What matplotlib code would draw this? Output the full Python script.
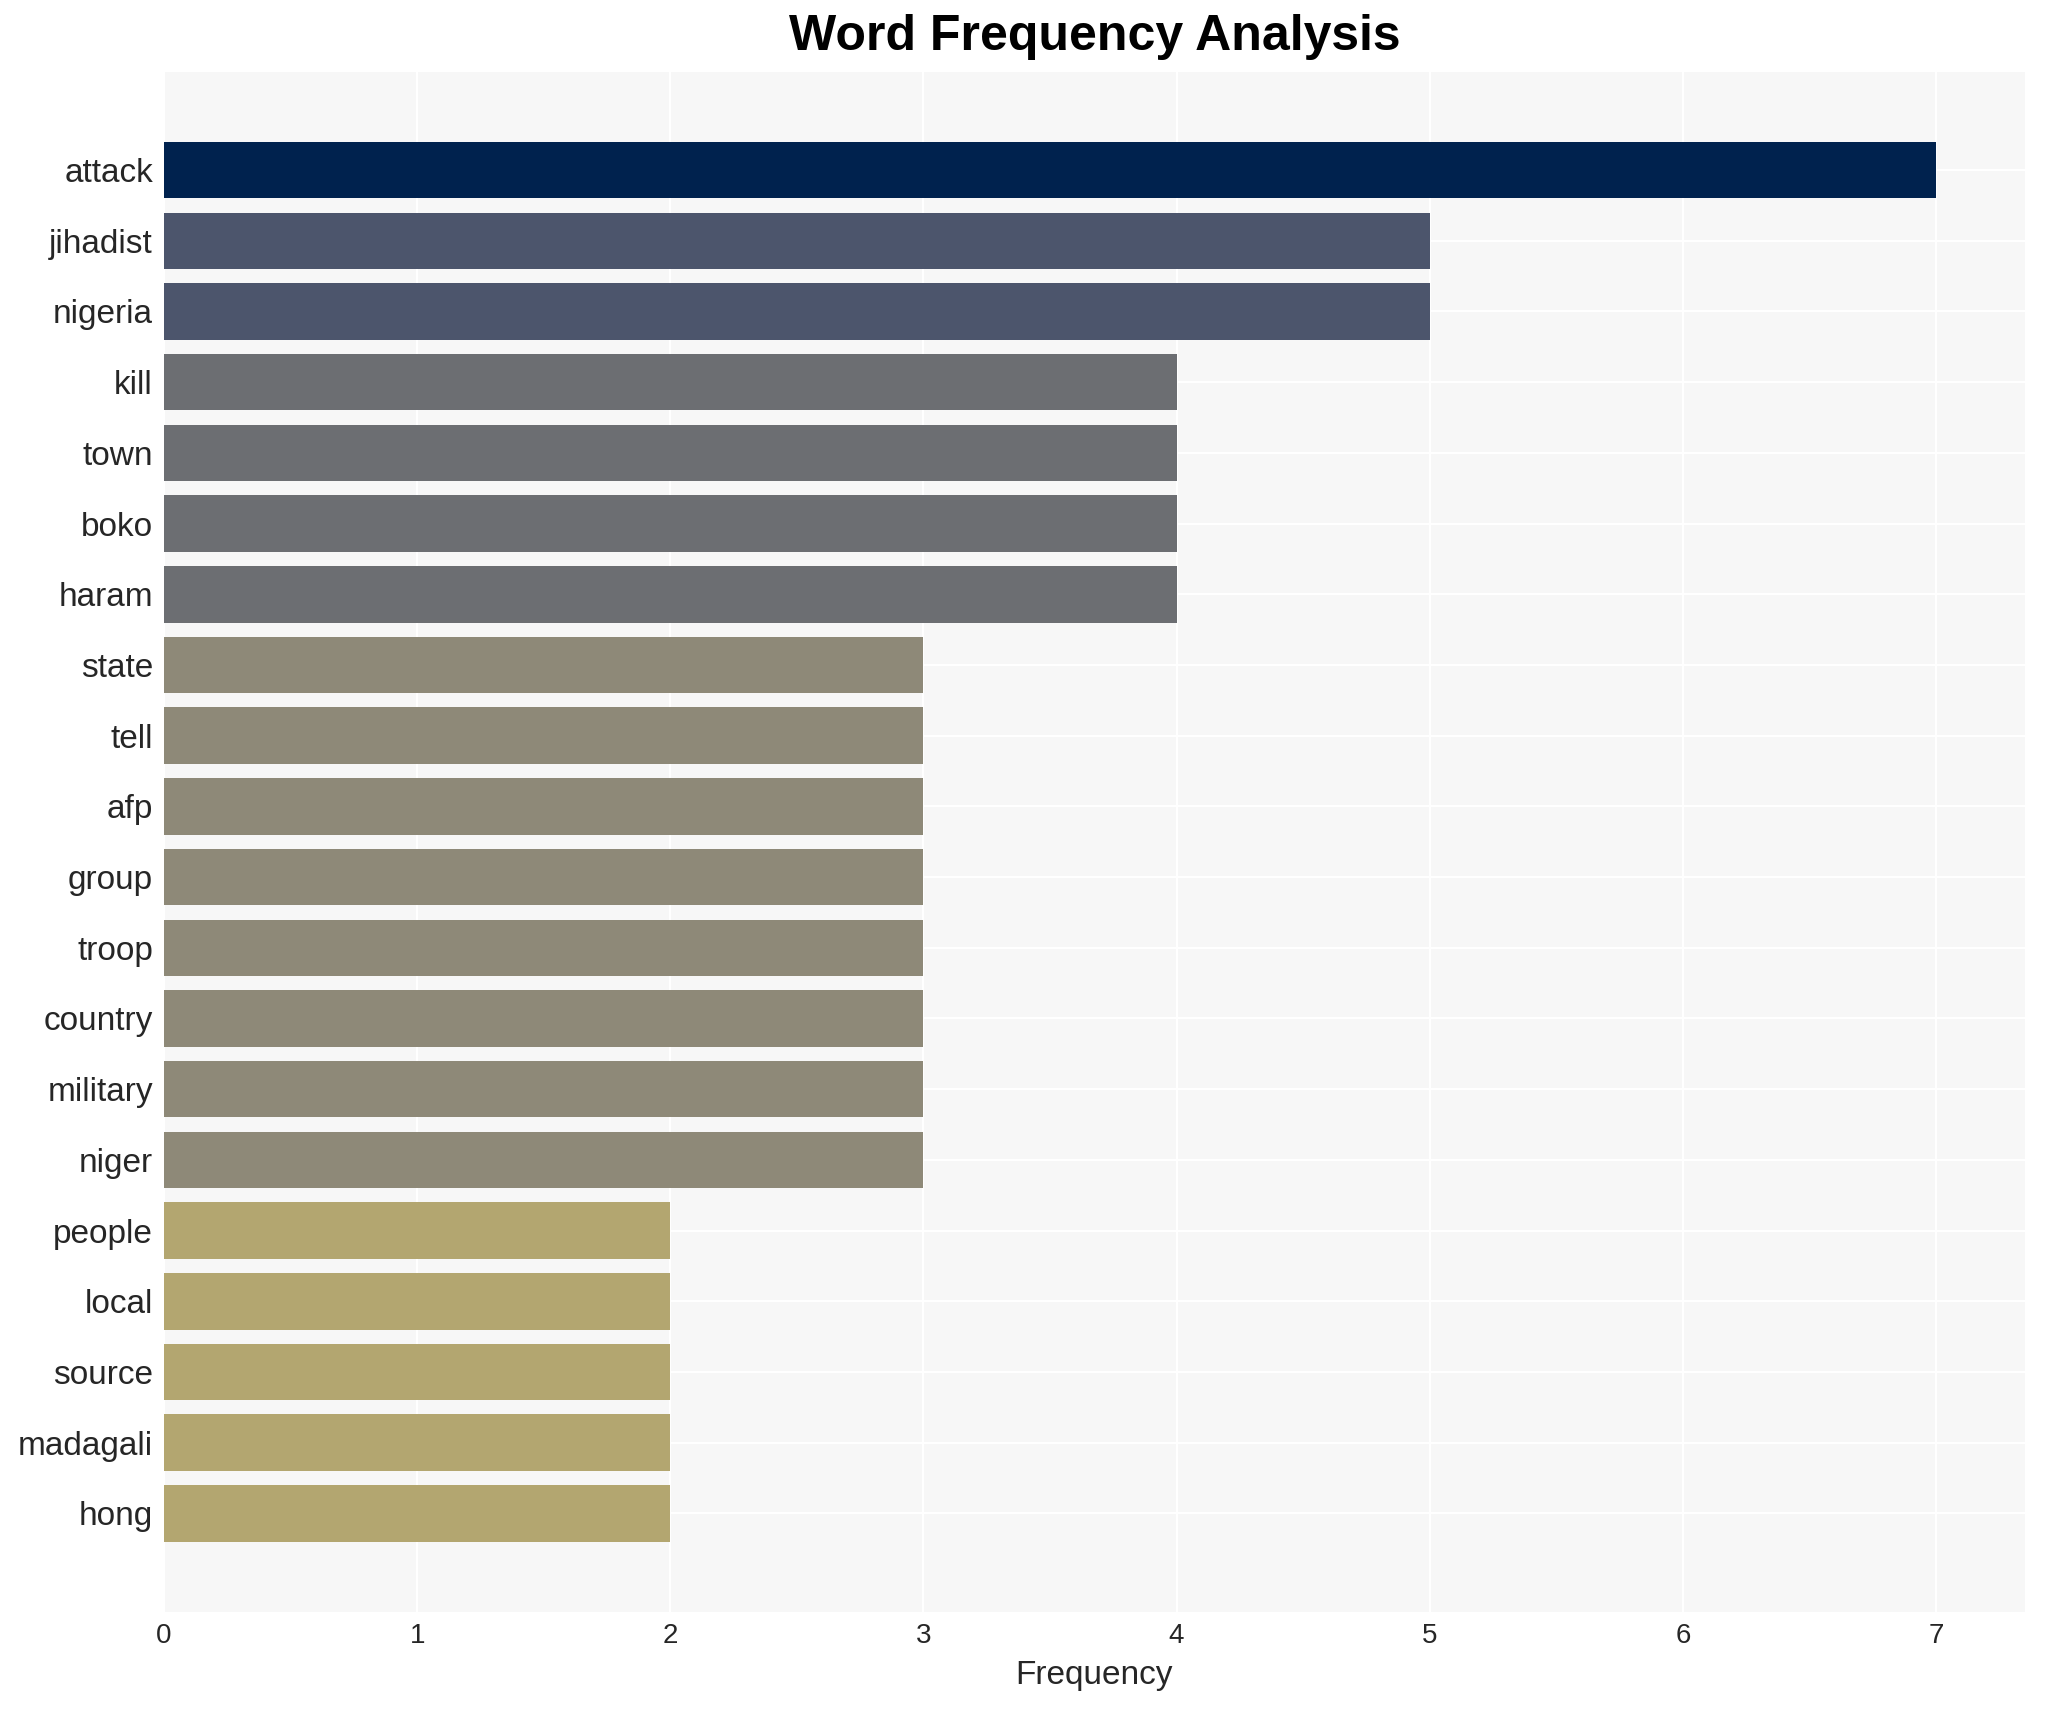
import matplotlib
matplotlib.use("Agg")
import matplotlib.pyplot as plt
import numpy as np

words = ["attack", "jihadist", "nigeria", "kill", "town", "boko", "haram",
         "state", "tell", "afp", "group", "troop", "country", "military",
         "niger", "people", "local", "source", "madagali", "hong"]
counts = [7, 5, 5, 4, 4, 4, 4, 3, 3, 3, 3, 3, 3, 3, 3, 2, 2, 2, 2, 2]
xticks = [0, 1, 2, 3, 4, 5, 6, 7]

plt.rcParams['font.family'] = ['Liberation Sans', 'DejaVu Sans']

fig = plt.figure(figsize=(10.225, 8.55), dpi=200)
ax = fig.add_axes([0.0802, 0.0575, 0.9098, 0.9005])
ax.set_facecolor('#f7f7f7')

cmap = plt.get_cmap('cividis')
vmax = max(counts)
colors = [cmap((vmax - c) * 0.143) for c in counts]

y = np.arange(len(words))
ax.barh(y, counts, height=0.8, color=colors, zorder=2)
ax.set_yticks(y)
ax.set_yticklabels(words, fontsize=12, color='#262626')
ax.set_xticks(xticks)
ax.set_xticklabels([str(t) for t in xticks], fontsize=10, color='#262626')
ax.set_xlim(0, vmax * 1.05)
ax.set_ylim(len(words) - 1 + 1.39, -1.39)
ax.grid(True, color='white', linewidth=0.8, zorder=0)
ax.set_axisbelow(True)
for s in ax.spines.values():
    s.set_visible(False)
ax.tick_params(length=0, pad=4)
ax.set_xlabel('Frequency', fontsize=12, color='#262626', labelpad=4)
ax.set_title('Word Frequency Analysis', fontsize=18, fontweight='bold', pad=8)

fig.savefig('out.png', dpi=200, facecolor='white')
